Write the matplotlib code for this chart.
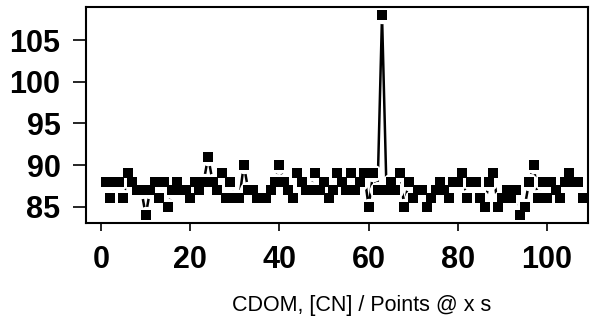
#!/usr/bin/env python3

import matplotlib
matplotlib.use('Agg')
import matplotlib.pyplot as plt

# values, one per point
points = list(range(1, 109))
cdom = [88, 86, 88, 88, 86, 89, 88, 87, 87, 84,
        87, 88, 86, 88, 85, 87, 88, 87, 87, 86,
        88, 87, 88, 91, 88, 87, 89, 86, 88, 86,
        86, 90, 87, 87, 86, 86, 86, 87, 88, 90,
        88, 87, 86, 89, 88, 87, 87, 89, 87, 88,
        86, 87, 89, 88, 87, 89, 87, 88, 89, 85,
        89, 87, 108, 87, 88, 87, 89, 85, 88, 86,
        87, 87, 85, 86, 87, 88, 87, 86, 88, 88,
        89, 86, 88, 88, 86, 85, 88, 89, 85, 86,
        87, 86, 87, 84, 85, 88, 90, 86, 88, 86,
        88, 87, 86, 88, 89, 88, 88, 86]
xticks = [0, 20, 40, 60, 80, 100]
yticks = [85, 90, 95, 100, 105]
xlabel = 'CDOM, [CN] / Points @ x s'

plt.rcParams['font.family'] = ['Liberation Sans', 'DejaVu Sans']

fig = plt.figure(figsize=(6, 3.22), dpi=100)
ax = fig.add_axes([0.1433, 0.3075, 0.8367, 0.6705])

# R-style type="b": line with a gap round each point
ax.plot(points, cdom, color='black', linewidth=1.8, zorder=2)
ax.plot(points, cdom, linestyle='none', marker='o', markersize=12.5,
        color='white', markeredgewidth=0, zorder=2.1)
ax.plot(points, cdom, linestyle='none', marker='s', markersize=7,
        color='black', markeredgewidth=0, zorder=2.2)

ax.set_xlim(-3.4, 109.2)
ax.set_ylim(83.04, 108.96)
ax.set_xticks(xticks)
ax.set_yticks(yticks)
ax.set_xticklabels([str(t) for t in xticks], fontsize=22, fontweight='bold')
ax.set_yticklabels([str(t) for t in yticks], fontsize=22, fontweight='bold')
ax.tick_params(axis='y', length=9.4, width=1.2, pad=9)
ax.tick_params(axis='x', length=6, width=1.2, pad=10)
for s in ax.spines.values():
    s.set_linewidth(1.5)
    s.set_zorder(3)

fig.text(0.603, 0.052, xlabel, ha='center', va='center', fontsize=15.5)

plt.savefig('out.png', dpi=100)
